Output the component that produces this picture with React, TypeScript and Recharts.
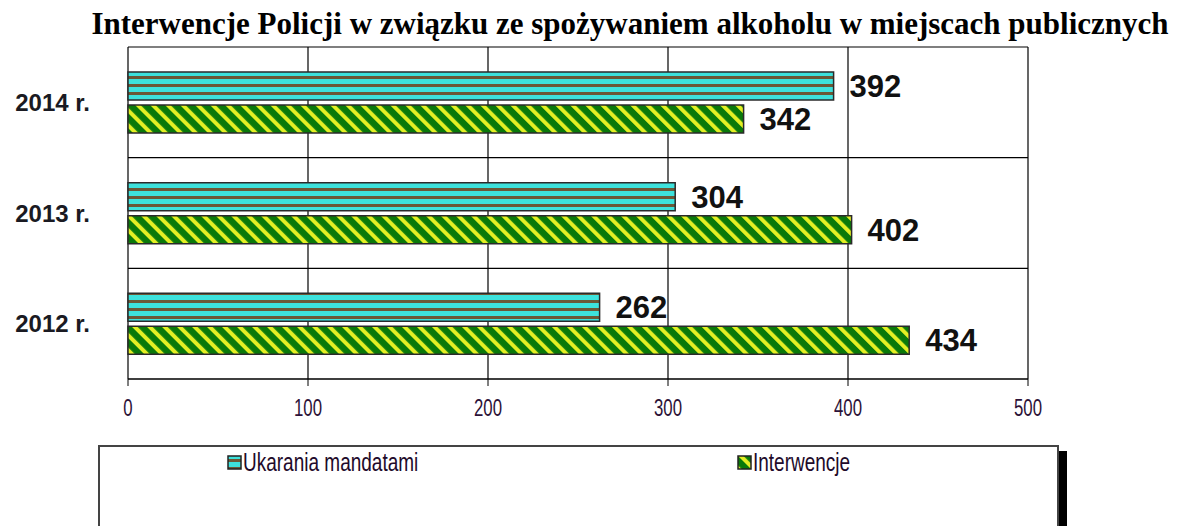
import React from "react";
import {
  BarChart,
  Bar,
  XAxis,
  YAxis,
  CartesianGrid,
  LabelList,
} from "recharts";

const categories = ["2014 r.", "2013 r.", "2012 r."];
const ukarania = [392, 304, 262];
const interwencje = [342, 402, 434];
const xTicks = [0, 100, 200, 300, 400, 500];
const seriesNames = ["Ukarania mandatami", "Interwencje"];
const title =
  "Interwencje Policji w związku ze spożywaniem alkoholu w miejscach publicznych";

const data = categories.map((c, i) => ({
  name: c,
  ukarania: ukarania[i],
  interwencje: interwencje[i],
}));

const CYAN = "#3de2dc";
const BROWN = "#6b5836";
const GREEN = "#0a790a";
const YELLOW = "#e4ef24";

const Patterns = () => (
  <svg width={0} height={0} style={{ position: "absolute" }}>
    <defs>
      <pattern id="pUk" patternUnits="userSpaceOnUse" width={8} height={8}>
        <rect x={0} y={0} width={8} height={8} fill={CYAN} />
        <rect x={0} y={4} width={8} height={3} fill={BROWN} />
      </pattern>
      <pattern
        id="pInt"
        patternUnits="userSpaceOnUse"
        width={10.6}
        height={10.6}
        patternTransform="rotate(-45)"
      >
        <rect x={0} y={0} width={10.6} height={10.6} fill={GREEN} />
        <rect x={0} y={0} width={4} height={10.6} fill={YELLOW} />
      </pattern>
    </defs>
  </svg>
);

const CatTick = (props: any) => {
  const { x, y, payload } = props;
  return (
    <text
      x={x}
      y={y}
      textAnchor="end"
      dominantBaseline="central"
      fontFamily="'Liberation Sans', Arial, sans-serif"
      fontWeight="bold"
      fontSize={24}
      fill="#1a1a22"
    >
      {payload.value}
    </text>
  );
};

const ValTick = (props: any) => {
  const { x, y, payload } = props;
  return (
    <g transform={`translate(${x},${y}) scale(0.7,1)`}>
      <text
        x={0}
        y={0}
        textAnchor="middle"
        dy="0.71em"
        fontFamily="'Liberation Sans', Arial, sans-serif"
        fontSize={24}
        fill="#2c1238"
      >
        {payload.value}
      </text>
    </g>
  );
};

const LegendBox = () => (
  <div
    style={{
      position: "absolute",
      left: 98,
      top: 445,
      width: 961,
      height: 100,
      border: "2px solid #444",
      background: "#fff",
      boxShadow: "8px 6px 0 0 #000",
      boxSizing: "border-box",
      fontFamily: "'Liberation Sans', Arial, sans-serif",
      fontSize: 25,
      color: "#220a2a",
    }}
  >
    {seriesNames.map((n, i) => (
      <div
        key={n}
        style={{
          position: "absolute",
          left: i === 0 ? 127 : 637,
          top: 1,
          display: "flex",
          alignItems: "center",
          whiteSpace: "nowrap",
        }}
      >
        <svg width={15} height={15} style={{ marginRight: 1 }}>
          <rect
            x={1}
            y={1}
            width={13}
            height={13}
            fill={i === 0 ? "url(#pUk)" : "url(#pInt)"}
            stroke="#222"
            strokeWidth={1.5}
          />
        </svg>
        <span
          style={{
            display: "inline-block",
            transform: "scaleX(0.76)",
            transformOrigin: "left center",
          }}
        >
          {n}
        </span>
      </div>
    ))}
  </div>
);

export default function App() {
  return (
    <div
      style={{
        position: "absolute",
        left: 0,
        top: 0,
        width: 1191,
        height: 526,
        background: "#fff",
        overflow: "hidden",
      }}
    >
      <Patterns />
      <div
        style={{
          position: "absolute",
          left: 0,
          top: 6,
          width: 1260,
          textAlign: "center",
          fontFamily: "'Liberation Serif', 'Times New Roman', serif",
          fontWeight: "bold",
          fontSize: 31,
          color: "#000",
          whiteSpace: "nowrap",
        }}
      >
        {title}
      </div>
      <div style={{ position: "absolute", left: 0, top: 0 }}>
        <BarChart
          width={1191}
          height={526}
          data={data}
          layout="vertical"
          margin={{ top: 47, right: 163, bottom: 117, left: 0 }}
          barSize={28}
          barGap={5}
        >
          <CartesianGrid
            stroke="#000"
            strokeWidth={1.2}
            horizontalCoordinatesGenerator={(p: any) => {
              const o = p.offset;
              return [0, 1, 2, 3].map((i) => o.top + (o.height * i) / 3);
            }}
          />
          <XAxis
            type="number"
            domain={[0, 500]}
            ticks={xTicks}
            height={30}
            tickSize={7}
            tickMargin={13}
            stroke="#000"
            tick={<ValTick />}
          />
          <YAxis
            type="category"
            dataKey="name"
            width={128}
            axisLine={false}
            tickLine={false}
            tickMargin={32}
            tick={<CatTick />}
          />
          <Bar
            dataKey="ukarania"
            name={seriesNames[0]}
            fill="url(#pUk)"
            stroke="#2a2a2a"
            strokeWidth={1.5}
            isAnimationActive={false}
          >
            <LabelList
              dataKey="ukarania"
              position="right"
              offset={16}
              fill="#111"
              fontFamily="'Liberation Sans', Arial, sans-serif"
              fontWeight="bold"
              fontSize={31}
            />
          </Bar>
          <Bar
            dataKey="interwencje"
            name={seriesNames[1]}
            fill="url(#pInt)"
            stroke="#2a2a2a"
            strokeWidth={1.5}
            isAnimationActive={false}
          >
            <LabelList
              dataKey="interwencje"
              position="right"
              offset={16}
              fill="#111"
              fontFamily="'Liberation Sans', Arial, sans-serif"
              fontWeight="bold"
              fontSize={31}
            />
          </Bar>
        </BarChart>
      </div>
      <LegendBox />
    </div>
  );
}
